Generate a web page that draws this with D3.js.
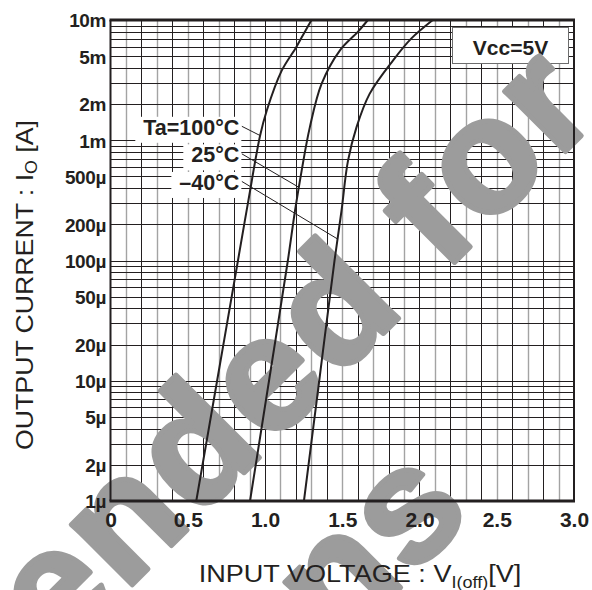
<!DOCTYPE html>
<html><head><meta charset="utf-8">
<script src="https://cdn.jsdelivr.net/npm/d3@7"></script>
<style>html,body{margin:0;padding:0;background:#fff;} svg{display:block;}</style>
</head><body>
<svg id="chart" width="592" height="590"></svg>
<script>
// ---- data ----
const xTickValues = [0, 0.5, 1.0, 1.5, 2.0, 2.5, 3.0];
const xTickLabels = ["0", "0.5", "1.0", "1.5", "2.0", "2.5", "3.0"];
const yTickValues = [1e-2, 5e-3, 2e-3, 1e-3, 5e-4, 2e-4, 1e-4, 5e-5, 2e-5, 1e-5, 5e-6, 2e-6, 1e-6];
const yTickLabels = ["10m", "5m", "2m", "1m", "500\u00b5", "200\u00b5", "100\u00b5", "50\u00b5", "20\u00b5", "10\u00b5", "5\u00b5", "2\u00b5", "1\u00b5"];

const seriesNames = ["Ta=100\u00b0C", "25\u00b0C", "\u201340\u00b0C"];
const current100 = [1e-6, 1e-5, 1e-4, 3.13e-4, 1.09e-3, 1.76e-3, 3.79e-3, 6e-3, 8e-3, 1e-2];
const volt100    = [0.555, 0.690, 0.825, 0.892, 0.968, 1.011, 1.108, 1.204, 1.258, 1.301];
const current25  = [1e-6, 1e-5, 1e-4, 2.58e-4, 5.57e-4, 1.28e-3, 2.94e-3, 5.57e-3, 8e-3, 1e-2];
const volt25     = [0.903, 1.026, 1.148, 1.194, 1.237, 1.290, 1.366, 1.484, 1.602, 1.666];
const currentM40 = [1e-6, 1e-5, 1e-4, 2.58e-4, 6.74e-4, 1.28e-3, 2.43e-3, 4.6e-3, 7e-3, 1e-2];
const voltM40    = [1.252, 1.351, 1.450, 1.495, 1.537, 1.592, 1.677, 1.828, 1.946, 2.086];
const leaderCurrents = [1.094e-3, 4.06e-4, 1.51e-4];

const xTitle = ["INPUT VOLTAGE : V", "I(off)", "[V]"];
const yTitle = ["OUTPUT CURRENT : I", "O", " [A]"];
const noteText = "Vcc=5V";
const watermark = ["Not Recommended for", "New Designs"];

// ---- drawing ----
const FONT = "'Liberation Sans', Arial, Helvetica, sans-serif";
const INK = "#231f20";
const svg = d3.select("#chart");
const x = d3.scaleLinear().domain([0, 3]).range([110.5, 574]);
const y = d3.scaleLog().domain([1e-6, 1e-2]).range([501, 20]);

const series = [
  {name: seriesNames[0], v: volt100, i: current100},
  {name: seriesNames[1], v: volt25, i: current25},
  {name: seriesNames[2], v: voltM40, i: currentM40}
];

// grid
const grid = svg.append("g");
const vLines = d3.range(1, 30).map(k => k / 10);
grid.selectAll("line.v").data(vLines).join("line")
  .attr("x1", d => Math.round(x(d)) + 0.5).attr("x2", d => Math.round(x(d)) + 0.5)
  .attr("y1", y(1e-2)).attr("y2", y(1e-6))
  .attr("stroke", (d, k) => (k % 2 === 0) ? "#a3a3a3" : INK)
  .attr("stroke-width", (d, k) => (k % 2 === 0) ? 1.4 : 1);
const hVals = [];
for (let e = -6; e <= -3; e++) for (let m = 1; m <= 9; m++) { const v = m * Math.pow(10, e); if (!(e === -6 && m === 1)) hVals.push(v); }
grid.selectAll("line.h").data(hVals).join("line")
  .attr("x1", x(0)).attr("x2", x(3))
  .attr("y1", d => Math.round(y(d)) + 0.5).attr("y2", d => Math.round(y(d)) + 0.5)
  .attr("stroke", INK).attr("stroke-width", 1);

// Vcc box
const note = svg.append("g");
note.append("rect").attr("x", 452.5).attr("y", 27.5).attr("width", 116).attr("height", 36)
  .attr("fill", "#fff").attr("stroke", "#6d6d6d").attr("stroke-width", 1);
note.append("text").attr("x", 510.5).attr("y", 54.5).attr("text-anchor", "middle")
  .attr("font-family", FONT).attr("font-weight", "bold").attr("font-size", 21).attr("fill", INK)
  .text(noteText);

// curve labels with white backing
const labelBaselines = [1.11e-3, 6.55e-4, 3.86e-4];
const labelV = 0.834;
const lab = svg.append("g");
series.forEach((s, k) => {
  const g = lab.append("g");
  const t = g.append("text").attr("x", x(labelV)).attr("y", y(labelBaselines[k]))
    .attr("text-anchor", "end").attr("font-family", FONT).attr("font-weight", "bold")
    .attr("font-size", 21.5).attr("fill", INK).text(s.name);
  const b = t.node().getBBox();
  g.insert("rect", "text").attr("x", b.x - 8).attr("y", b.y + 1).attr("width", b.width + 10).attr("height", b.height + 2)
    .attr("fill", "#fff");
});

// watermark
const wm = svg.append("g").attr("fill", "#9c9c9c").attr("stroke", "#9c9c9c").attr("stroke-width", 5)
  .attr("stroke-linejoin", "round").attr("font-family", FONT).attr("font-weight", "bold")
  .attr("font-size", 162).attr("letter-spacing", 4);
wm.append("text").attr("text-anchor", "end").attr("transform", "translate(605,112) rotate(-45)").text(watermark[0]);
wm.append("text").attr("text-anchor", "end").attr("transform", "translate(477,511) rotate(-45)").text(watermark[1]);

// frame
const fr = svg.append("g").attr("stroke", INK).attr("fill", "none");
fr.append("line").attr("x1", x(0)).attr("x2", x(0)).attr("y1", y(1e-2)).attr("y2", y(1e-6)).attr("stroke-width", 2);
fr.append("line").attr("x1", x(3)).attr("x2", x(3)).attr("y1", y(1e-2)).attr("y2", y(1e-6)).attr("stroke-width", 2);
fr.append("line").attr("x1", x(0) - 1).attr("x2", x(3) + 1).attr("y1", y(1e-2)).attr("y2", y(1e-2)).attr("stroke-width", 3);
fr.append("line").attr("x1", x(0) - 1).attr("x2", x(3) + 1).attr("y1", y(1e-6)).attr("y2", y(1e-6)).attr("stroke-width", 3);

// curves
const line = d3.line().x(d => x(d[0])).y(d => y(d[1])).curve(d3.curveCatmullRom.alpha(0.5));
svg.append("g").selectAll("path").data(series).join("path")
  .attr("d", s => line(s.v.map((v, k) => [v, s.i[k]])))
  .attr("fill", "none").attr("stroke", INK).attr("stroke-width", 2);

// leaders
function vAt(s, cur) {
  const L = Math.log10(cur);
  for (let k = 0; k < s.i.length - 1; k++) {
    const a = Math.log10(s.i[k]), b = Math.log10(s.i[k + 1]);
    if (L >= a && L <= b) return s.v[k] + (s.v[k + 1] - s.v[k]) * (L - a) / (b - a);
  }
  return s.v[s.v.length - 1];
}
series.forEach((s, k) => {
  svg.append("line")
    .attr("x1", x(labelV) + 2.5).attr("y1", y(labelBaselines[k]) - 8.5)
    .attr("x2", x(vAt(s, leaderCurrents[k]))).attr("y2", y(leaderCurrents[k]))
    .attr("stroke", INK).attr("stroke-width", 1);
});

// axes
const xAxis = d3.axisBottom(x).tickValues(xTickValues).tickFormat((d, k) => xTickLabels[k]).tickSize(0).tickPadding(0);
const gx = svg.append("g").call(xAxis);
gx.select(".domain").remove();
gx.selectAll("text").attr("y", 527).attr("dy", null).attr("font-family", FONT).attr("font-weight", "bold")
  .attr("font-size", 21).attr("fill", INK);

const yAxis = d3.axisLeft(y).tickValues(yTickValues).tickFormat((d, k) => yTickLabels[k]).tickSize(0).tickPadding(0);
const gy = svg.append("g").attr("transform", "translate(106,0)").call(yAxis);
gy.select(".domain").remove();
gy.selectAll("text").attr("x", 0).attr("dy", "0.36em").attr("font-family", FONT).attr("font-weight", "bold")
  .attr("font-size", 19).attr("fill", INK).attr("letter-spacing", -0.4);

// axis titles
function title(parts, cx, cy, rot, targetLen, subShift) {
  const g = svg.append("g");
  const t = g.append("text").attr("text-anchor", "middle").attr("font-family", FONT)
    .attr("font-size", 24).attr("fill", INK);
  t.append("tspan").text(parts[0]);
  t.append("tspan").attr("font-size", 16).attr("dy", subShift).text(parts[1]);
  t.append("tspan").attr("dy", -subShift).text(parts[2]);
  const w = t.node().getBBox().width;
  g.attr("transform", `translate(${cx},${cy}) rotate(${rot}) scale(${targetLen / w},1)`);
}
title(xTitle, 360, 582, 0, 323, 6);
title(yTitle, 33, 285, -90, 330, 4);
</script>
</body></html>
